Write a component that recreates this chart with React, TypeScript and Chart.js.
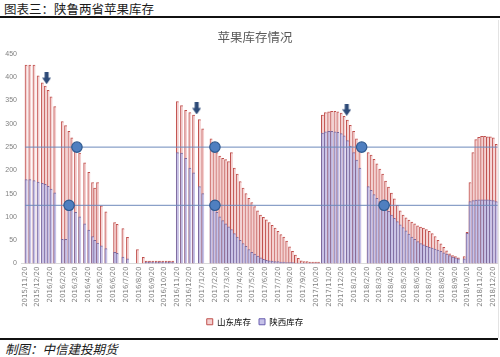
import React, { useEffect, useRef } from 'react';
import { Chart, registerables } from 'chart.js';

Chart.register(...registerables);

// ---- Data ----
const monthLabels = [
  '2015/11/20', '2015/12/20', '2016/1/20', '2016/2/20', '2016/3/20', '2016/4/20', '2016/5/20',
  '2016/6/20', '2016/7/20', '2016/8/20', '2016/9/20', '2016/10/20', '2016/11/20', '2016/12/20',
  '2017/1/20', '2017/2/20', '2017/3/20', '2017/4/20', '2017/5/20', '2017/6/20', '2017/7/20',
  '2017/8/20', '2017/9/20', '2017/10/20', '2017/11/20', '2017/12/20', '2018/1/20', '2018/2/20',
  '2018/3/20', '2018/4/20', '2018/5/20', '2018/6/20', '2018/7/20', '2018/8/20', '2018/9/20',
  '2018/10/20', '2018/11/20', '2018/12/20',
];

const barDates = [
  // 2015/16 season
  '2015-11-23', '2015-12-02', '2015-12-12', '2015-12-22', '2016-01-01', '2016-01-08', '2016-01-15', '2016-01-22', '2016-01-31',
  '2016-02-18', '2016-02-26', '2016-03-05', '2016-03-12', '2016-03-21', '2016-03-31', '2016-04-12', '2016-04-22', '2016-05-01',
  '2016-05-06', '2016-05-13', '2016-05-22', '2016-06-02', '2016-06-23', '2016-06-29', '2016-07-13', '2016-07-24', '2016-08-17',
  '2016-08-31',
  '2016-09-07', '2016-09-15', '2016-09-23', '2016-10-01', '2016-10-09', '2016-10-17', '2016-10-25', '2016-11-02', '2016-11-10',
  // 2016/17 season
  '2016-11-21', '2016-12-01', '2016-12-11', '2016-12-21', '2016-12-30', '2017-01-13', '2017-01-21',
  '2017-02-10', '2017-02-17', '2017-02-24', '2017-03-03', '2017-03-10', '2017-03-17', '2017-03-24', '2017-03-31', '2017-04-07',
  '2017-04-14', '2017-04-21', '2017-04-28', '2017-05-05', '2017-05-12', '2017-05-19', '2017-05-26', '2017-06-02', '2017-06-09',
  '2017-06-16', '2017-06-23', '2017-06-30', '2017-07-07', '2017-07-14', '2017-07-21', '2017-07-28', '2017-08-04', '2017-08-11',
  '2017-08-18', '2017-08-25', '2017-09-01', '2017-09-08', '2017-09-15', '2017-09-22',
  '2017-09-29', '2017-10-06', '2017-10-13', '2017-10-20', '2017-10-27',
  // 2017/18 season
  '2017-11-05', '2017-11-12', '2017-11-20', '2017-11-27', '2017-12-05', '2017-12-12', '2017-12-20', '2017-12-27', '2018-01-04',
  '2018-01-11', '2018-01-19', '2018-01-26', '2018-02-03',
  '2018-02-23', '2018-03-02', '2018-03-09', '2018-03-16', '2018-03-23', '2018-03-30', '2018-04-06', '2018-04-13', '2018-04-20',
  '2018-04-27', '2018-05-04', '2018-05-11', '2018-05-18', '2018-05-25', '2018-06-01', '2018-06-08', '2018-06-15', '2018-06-22',
  '2018-06-29', '2018-07-06', '2018-07-13', '2018-07-20', '2018-07-27', '2018-08-03', '2018-08-10', '2018-08-17', '2018-08-24',
  '2018-08-31', '2018-09-07', '2018-09-14', '2018-09-21', '2018-09-28',
  // 2018/19 season
  '2018-10-12', '2018-10-19', '2018-10-26', '2018-11-02', '2018-11-09', '2018-11-16', '2018-11-23', '2018-11-30', '2018-12-07',
  '2018-12-14', '2018-12-21', '2018-12-28',
];

const shandong = [
  426, 426, 426, 403, 388, 381, 372, 358, 337,
  305, 296, 284, 270, 255, 237, 216, 196, 174,
  162, 174, 124, 111, 88, 84, 75, 56, 30,
  13,
  5, 5, 5, 5, 5, 5, 5, 5, 5,
  348, 339, 329, 324, 319, 309, 289,
  268, 246, 238, 231, 226, 223, 219, 238, 205,
  192, 176, 162, 150, 140, 131, 122, 113, 104,
  99, 94, 88, 82, 76, 69, 62, 57, 48,
  36, 26, 18, 11, 6, 4,
  4, 3, 3, 3, 3,
  319, 324, 326, 327, 327, 326, 323, 316, 308,
  297, 284, 268, 252,
  238, 233, 224, 214, 203, 192, 177, 164, 151,
  139, 125, 113, 104, 98, 93, 89, 85, 81,
  78, 76, 73, 69, 64, 58, 50, 42, 35,
  27, 21, 17, 15, 12,
  15, 67, 174, 238, 266, 271, 273, 273, 272,
  272, 270, 256,
];

const shaanxi = [
  180, 180, 178, 175, 172, 170, 166, 160, 152,
  52, 52, 122, 118, 110, 100, 85, 72, 58,
  50, 44, 38, 32, 24, 22, 14, 10, 0,
  0,
  3, 3, 3, 3, 3, 3, 3, 3, 3,
  238, 237, 226, 205, 195, 165, 150,
  125, 118, 110, 100, 92, 85, 79, 73, 64,
  57, 50, 43, 37, 30, 24, 20, 16, 12,
  9, 7, 6, 5, 4, 4, 3, 3, 2,
  2, 2, 1, 1, 1, 1,
  1, 1, 1, 1, 1,
  280, 283, 284, 284, 283, 282, 279, 274, 264,
  252, 238, 222, 205,
  165, 157, 148, 140, 133, 126, 120, 112, 104,
  97, 90, 83, 77, 70, 63, 57, 52, 47,
  43, 40, 37, 35, 33, 31, 29, 26, 23,
  20, 17, 14, 12, 10,
  10, 65, 133, 135, 136, 137, 137, 137, 137,
  136, 135, 133,
];

const refLevels = [250, 125];
const refLineDates = ['2015-11-20', '2018-12-31'];

const circleDates = ['2016-03-24', '2016-03-05', '2017-02-19', '2017-02-19', '2018-02-07', '2018-04-02'];
const circleValues = [250, 125, 250, 125, 250, 125];

const arrowDates = ['2016-01-11', '2017-01-06', '2018-01-02'];
const arrowValues = [398, 333, 330];

const xMinDay = -9.6;
const xMaxDay = 1138;

// ---- helpers ----
const DAY0 = Date.UTC(2015, 10, 20);
function toDay(s: string): number {
  const [y, m, d] = s.split(/[-\/]/).map(Number);
  return (Date.UTC(y, m - 1, d) - DAY0) / 86400000;
}

const CJK = '"Noto Sans CJK SC", "Noto Sans", sans-serif';

export default function App() {
  const ref = useRef<HTMLCanvasElement>(null);

  useEffect(() => {
    document.body.style.margin = '0';
    const arrow = document.createElement('canvas');
    arrow.width = 9;
    arrow.height = 12;
    const g = arrow.getContext('2d')!;
    g.fillStyle = '#2d4a78';
    g.fillRect(2.5, 0, 4, 6);
    g.beginPath();
    g.moveTo(0, 5.5);
    g.lineTo(9, 5.5);
    g.lineTo(4.5, 12);
    g.closePath();
    g.fill();

    const xs = barDates.map(toDay);
    const monthDays = monthLabels.map(toDay);

    const refSets = refLevels.map((lv) => ({
      type: 'line' as const,
      label: 'ref' + lv,
      data: refLineDates.map((d) => ({ x: toDay(d), y: lv })),
      borderColor: '#6d89bb',
      borderWidth: 1,
      pointRadius: 0,
      fill: false,
      order: 1,
    }));

    const chart = new Chart(ref.current!, {
      type: 'bar',
      data: {
        datasets: [
          {
            type: 'bar',
            label: '山东库存',
            data: xs.map((x, i) => ({ x, y: shandong[i] })),
            backgroundColor: '#f4d0d0',
            borderColor: '#c0504d',
            borderWidth: { left: 1, top: 1, right: 0, bottom: 0 },
            barThickness: 2.5,
            grouped: false,
            order: 3,
          } as any,
          {
            type: 'bar',
            label: '陕西库存',
            data: xs.map((x, i) => ({ x, y: shaanxi[i] })),
            backgroundColor: '#c6c2e8',
            borderColor: '#7d6a9e',
            borderWidth: { left: 1, top: 1, right: 0, bottom: 0 },
            barThickness: 2.5,
            grouped: false,
            order: 2,
          } as any,
          ...refSets,
          {
            type: 'line',
            label: 'circles',
            data: circleDates.map((d, i) => ({ x: toDay(d), y: circleValues[i] })),
            showLine: false,
            pointRadius: 5.2,
            pointBackgroundColor: '#4f7fc0',
            pointBorderColor: '#2f5a90',
            pointBorderWidth: 1.2,
            order: 0,
          } as any,
          {
            type: 'line',
            label: 'arrows',
            data: arrowDates.map((d, i) => ({ x: toDay(d), y: arrowValues[i] })),
            showLine: false,
            pointStyle: arrow,
            order: 0,
          } as any,
        ],
      },
      options: {
        animation: false,
        responsive: false,
        maintainAspectRatio: false,
        layout: { padding: { top: 6, right: 12, left: 12, bottom: 2 } },
        scales: {
          x: {
            type: 'linear',
            offset: false,
            min: xMinDay,
            max: xMaxDay,
            grid: { display: false, drawTicks: false, offset: false },
            border: { display: true, color: '#d9d9d9' },
            afterBuildTicks: (s: any) => {
              s.ticks = monthDays.map((v) => ({ value: v }));
            },
            afterFit: (s: any) => {
              s.height = 46;
              s.paddingLeft = 0;
              s.paddingRight = 0;
            },
            ticks: {
              autoSkip: false,
              maxRotation: 90,
              minRotation: 90,
              padding: 3,
              color: '#808080',
              font: { family: '"DejaVu Sans", sans-serif', size: 7 },
              callback: (_v: any, i: number) => monthLabels[i],
            },
          },
          y: {
            min: 0,
            max: 450,
            grid: { display: false, drawTicks: false },
            border: { display: false },
            afterFit: (s: any) => {
              s.width = 9;
              s.paddingTop = 0;
              s.paddingBottom = 0;
              s._computeLabelArea = () => undefined;
            },
            ticks: {
              stepSize: 50,
              padding: 4,
              color: '#808080',
              font: { family: '"Liberation Sans", sans-serif', size: 7 },
            },
          },
        },
        plugins: {
          tooltip: { enabled: false },
          title: {
            display: true,
            text: '苹果库存情况',
            color: '#595959',
            font: { family: CJK, size: 12.5, weight: 'normal', lineHeight: 1.2 },
            padding: { top: 4, bottom: 9 },
          },
          legend: {
            position: 'bottom',
            labels: {
              boxWidth: 6,
              boxHeight: 6,
              padding: 8,
              color: '#7f7f7f',
              font: { family: CJK, size: 8.5 },
              generateLabels: () => [
                { text: '山东库存', fillStyle: '#f4d0d0', strokeStyle: '#c0504d', lineWidth: 1, hidden: false, datasetIndex: 0 },
                { text: '陕西库存', fillStyle: '#c6c2e8', strokeStyle: '#6a5fb0', lineWidth: 1, hidden: false, datasetIndex: 1 },
              ],
            },
          },
        },
      } as any,
    });
    return () => chart.destroy();
  }, []);

  return (
    <div style={{ position: 'relative', width: 500, height: 357, background: '#fff', overflow: 'hidden' }}>
      <div
        style={{
          position: 'absolute', left: 4, top: 1, fontFamily: CJK, fontSize: 12.5, color: '#1a1a1a',
          lineHeight: '15px', whiteSpace: 'nowrap',
        }}
      >
        图表三：陕鲁两省苹果库存
      </div>
      <div style={{ position: 'absolute', left: 0, top: 16, width: 500, height: 2, background: '#111' }} />
      <div style={{ position: 'absolute', left: 0, top: 20, width: 510, height: 318 }}>
        <canvas ref={ref} width={510} height={318} style={{ width: 510, height: 318, display: 'block' }} />
      </div>
      <div style={{ position: 'absolute', left: 498, top: 20, width: 1, height: 318, background: '#e3e3e3' }} />
      <div style={{ position: 'absolute', left: 0, top: 338, width: 498, height: 2, background: '#111' }} />
      <div
        style={{
          position: 'absolute', left: 5, top: 341, fontFamily: CJK, fontSize: 12.5, fontStyle: 'italic',
          color: '#1a1a1a', lineHeight: '15px', whiteSpace: 'nowrap',
        }}
      >
        制图：中信建投期货
      </div>
    </div>
  );
}
